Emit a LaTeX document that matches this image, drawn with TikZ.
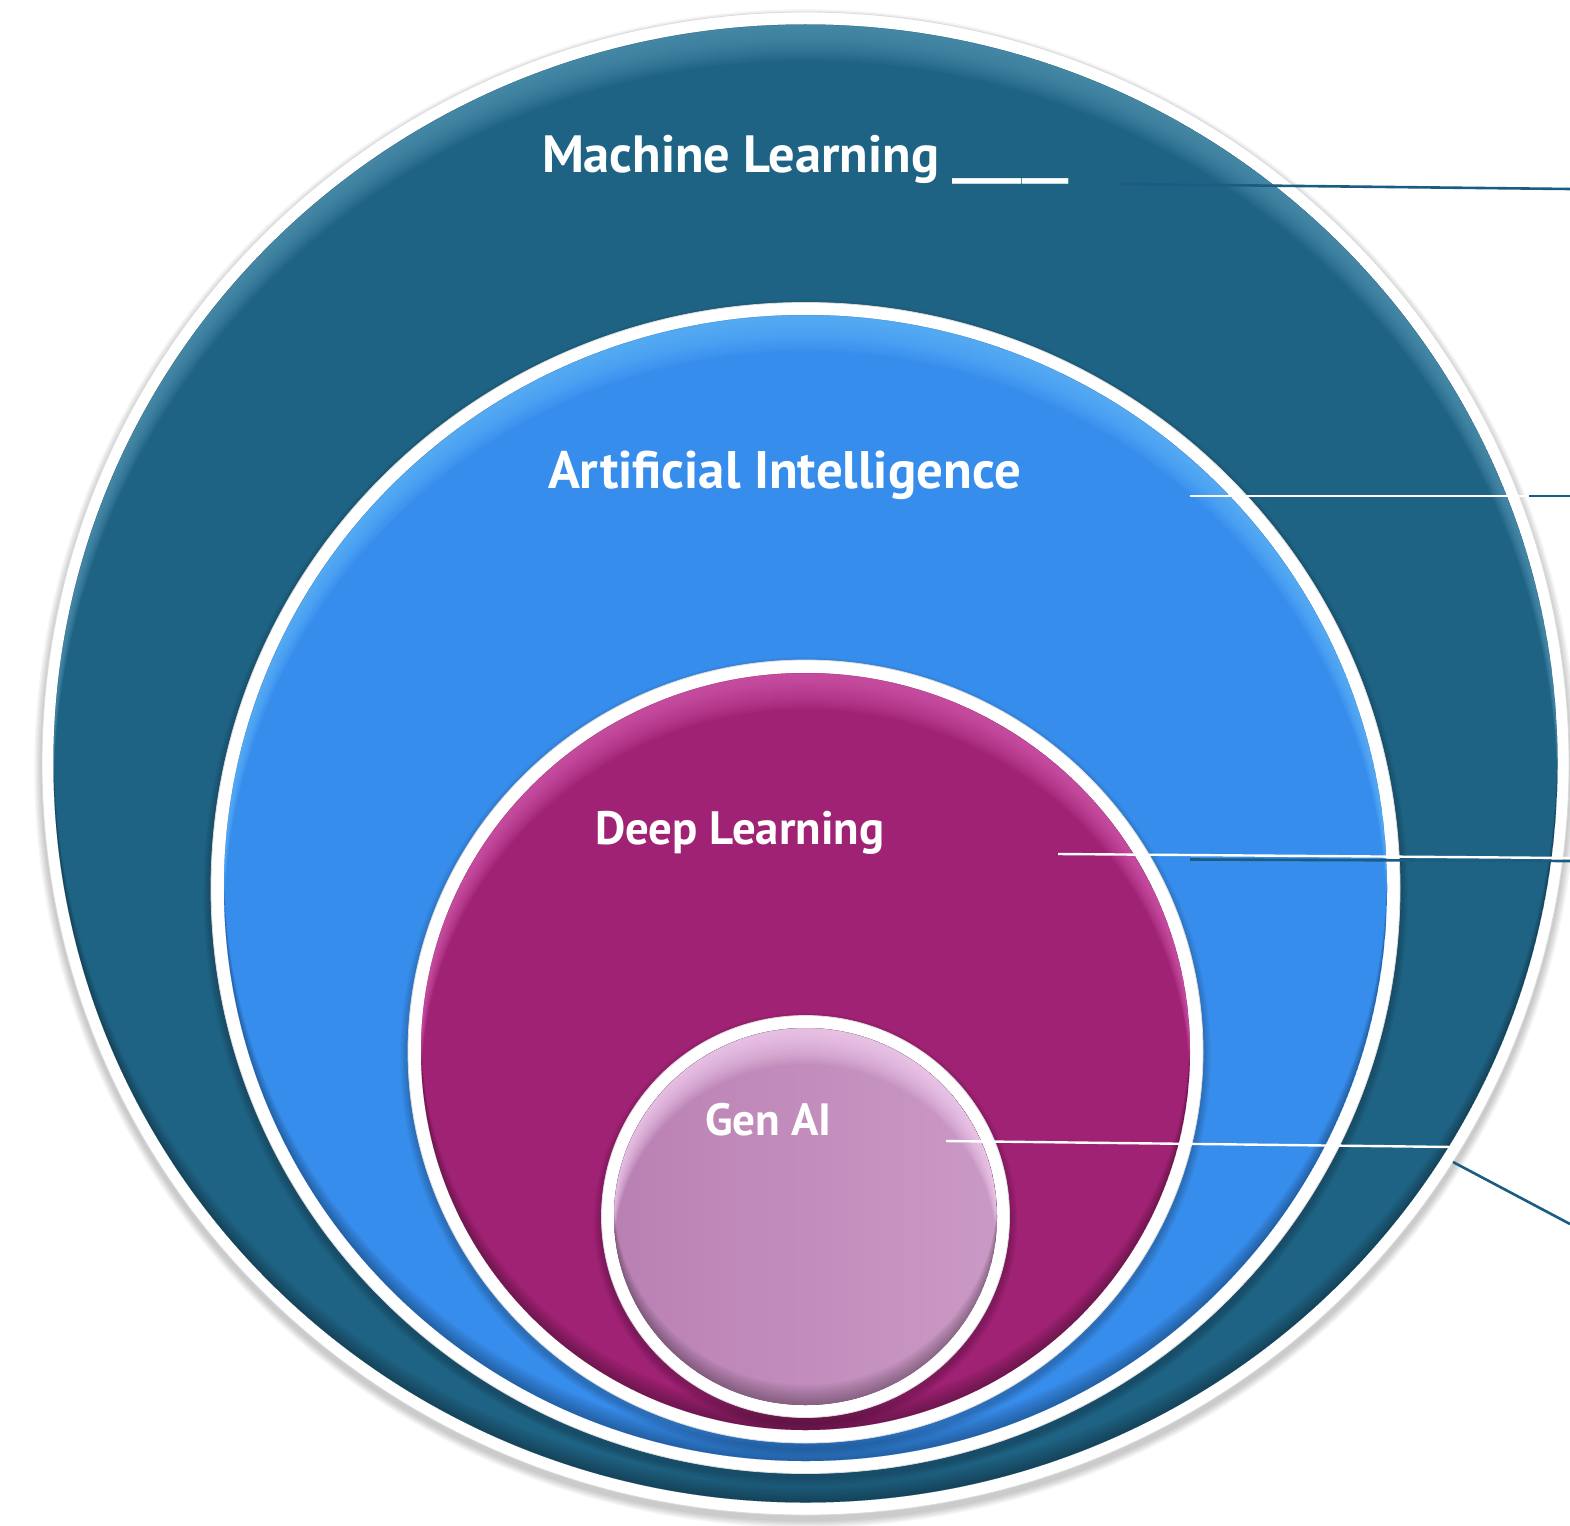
\documentclass[tikz,border=0pt]{standalone}
\usepackage{fontspec}
\setmainfont{PT Sans}
\usetikzlibrary{calc}
\definecolor{mlteal}{HTML}{1F6384}
\definecolor{mlglow}{HTML}{5A9CBA}
\definecolor{aiblue}{HTML}{378DEC}
\definecolor{aiglow}{HTML}{66BCFF}
\definecolor{dlmag}{HTML}{A02274}
\definecolor{dlglow}{HTML}{DA62B6}
\definecolor{gaL}{HTML}{B981B3}
\definecolor{gaR}{HTML}{CB99C5}
\definecolor{gaglow}{HTML}{FCDAFA}
\definecolor{linkteal}{HTML}{1A5D80}

% #1 cx, #2 cy, #3 outer rx, #4 outer ry, #5 inner rx, #6 inner ry, #7 fill options, #8 glow colour
\newcommand\layerdisc[8]{%
  \foreach \k in {1,...,6}{
    \fill[black,opacity=0.035] (#1,#2+5) ellipse [x radius=#3+\k*1.3, y radius=#4+\k*1.3];
  }
  \fill[white] (#1,#2) ellipse [x radius=#3, y radius=#4];
  \draw[black!14, line width=0.8pt] (#1,#2) ellipse [x radius=#3, y radius=#4];
  \fill[#7] (#1,#2) ellipse [x radius=#5, y radius=#6];
  \begin{scope}
    \clip (#1,#2) ellipse [x radius=#5, y radius=#6];
    \foreach \d in {2,4,...,36}{
      \fill[#8,opacity=0.07,even odd rule] (#1,#2) ellipse [x radius=#5, y radius=#6]
            (#1,#2+\d) ellipse [x radius=#5, y radius=#6];
    }
    \foreach \d in {2,4,...,20}{
      \fill[black,opacity=0.03,even odd rule] (#1,#2) ellipse [x radius=#5, y radius=#6]
            (#1,#2-\d) ellipse [x radius=#5, y radius=#6];
    }
  \end{scope}
}

\tikzset{
  lbl/.style={text=white, anchor=base west, inner sep=0pt, outer sep=0pt},
  whitelink/.style={draw=white, line width=2.4pt},
  teallink/.style={draw=linkteal, line width=2.6pt},
}

\begin{document}
\begin{tikzpicture}[x=1pt,y=1pt,yscale=-1]
  \fill[white] (0,0) rectangle (1570,1525);
  \useasboundingbox (0,0) rectangle (1570,1525);

  % circle centres
  \coordinate (mlc) at (805.5,763.5);
  \coordinate (aic) at (805.5,888);
  \coordinate (dlc) at (805.5,1051.5);
  \coordinate (gac) at (805.5,1216.5);

  \layerdisc{805.5}{763.5}{763.5}{751.5}{752}{739}{mlteal}{mlglow}
  \layerdisc{805.5}{888}{594.5}{585.5}{581.5}{573}{aiblue}{aiglow}
  \layerdisc{805.5}{1051.5}{397.5}{391.5}{384.5}{378.5}{dlmag}{dlglow}
  \layerdisc{805.5}{1216.5}{204}{201}{191.5}{188.5}{left color=gaL,right color=gaR}{gaglow}

  % connector end points
  \coordinate (mlA) at (1120,184);
  \coordinate (mlB) at (1570,189);
  \coordinate (aiA) at (1190,496);
  \coordinate (aiM) at (1529,496);
  \coordinate (aiB) at (1570,496);
  \coordinate (dlA) at (1058,854);
  \coordinate (dlB) at (1570,858);
  \coordinate (dlT) at (1190,859.5);
  \coordinate (dlU) at (1570,861);
  \coordinate (gaA) at (946,1141);
  \coordinate (gaM) at (1453,1147);
  \coordinate (gaT) at (1453,1162);
  \coordinate (gaB) at (1570,1224);

  \draw[teallink] (mlA) -- (mlB);
  \draw[whitelink] (aiA) -- (aiM);
  \draw[teallink] (aiM) -- (aiB);
  \draw[teallink] (dlT) -- (dlU);
  \draw[whitelink] (dlA) -- (dlB);
  \draw[whitelink] (gaA) -- (gaM);
  \draw[teallink] (gaT) -- (gaB);

  % labels
  \node[lbl, font=\bfseries\fontsize{52.4}{60}\selectfont] (ml) at (542,172) {Machine Learning \_\_\_\_\_};
  \node[lbl, font=\bfseries\fontsize{52.8}{60}\selectfont] (ai) at (548,488) {Artificial Intelligence};
  \node[lbl, font=\bfseries\fontsize{46.8}{54}\selectfont] (dl) at (595,844) {Deep Learning};
  \node[lbl, font=\bfseries\fontsize{45.2}{52}\selectfont] (ga) at (705,1135) {Gen AI};
\end{tikzpicture}
\end{document}
